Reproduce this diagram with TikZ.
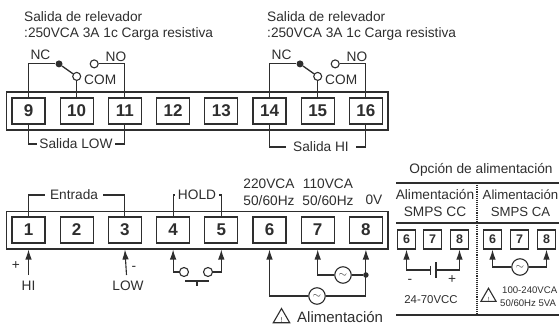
\documentclass[tikz,border=0pt]{standalone}
\usepackage{fontspec}
\setmainfont{Liberation Sans}
\usetikzlibrary{shapes.geometric,fit,calc,arrows.meta}
\definecolor{ink}{HTML}{2E2E2E}
\tikzset{
	every node/.style={text=ink},
	wire/.style={draw=ink, line width=1.1pt},
	feed/.style={wire, -{Latex[length=10pt,width=6.5pt]}},
	termbox/.style={draw=ink, line width=1.2pt, minimum width=33pt, minimum height=26pt, inner sep=0pt, font=\bfseries\fontsize{17}{17}\selectfont},
	smallbox/.style={draw=ink, line width=1.2pt, minimum width=18.5pt, minimum height=19pt, inner sep=0pt, font=\bfseries\fontsize{12.5}{12.5}\selectfont},
	framebox/.style={draw=ink, line width=1.8pt, inner sep=5pt},
	opendot/.style={circle, draw=ink, line width=1.1pt, fill=white, minimum size=8pt, inner sep=0pt},
	fulldot/.style={circle, fill=ink, minimum size=7pt, inner sep=0pt},
	source/.style={circle, draw=ink, line width=1.1pt, fill=white, minimum size=16.5pt, inner sep=0pt, font=\fontsize{11}{11}\selectfont},
	warnmark/.style={regular polygon, regular polygon sides=3, draw=ink, line width=1.1pt, minimum size=19pt, inner sep=0pt},
	txt/.style={inner sep=0pt, font=\fontsize{13.7}{16.5}\selectfont},
	gaptxt/.style={txt, inner sep=2.5pt},
}
\begin{document}
\begin{tikzpicture}[x=1pt, y=-1pt]
	\useasboundingbox (0,0) rectangle (559,326);
	\def \pitch {48.2}
	
	% terminal strips
	\foreach \s in {9,...,16}
	{
		\node[termbox] (t\s) at ({28.5+\pitch*(\s-9)},111) {\s};
	}
	\foreach \s in {1,...,8}
	{
		\node[termbox] (t\s) at ({28.5+\pitch*(\s-1)},230) {\s};
	}
	\node[framebox, fit=(t9)(t16)] (upper) {};
	\node[framebox, fit=(t1)(t8)] (lower) {};
	
	% relay outputs
	\node[txt, anchor=west, align=left] (rela) at (24,26) {Salida de relevador\\:250VCA 3A 1c Carga resistiva};
	\node[txt, anchor=west, align=left] (relb) at (267,26) {Salida de relevador\\:250VCA 3A 1c Carga resistiva};
	\foreach \a/\b/\c in {9/10/11, 14/15/16}
	{
		\node[fulldot] (nc\a) at ($(t\a.north)+(30.5,-33.5)$) {};
		\node[opendot] (com\a) at ($(t\b.north)+(0,-21)$) {};
		\node[opendot] (no\a) at ($(t\b.north)+(17.5,-33.5)$) {};
		\draw[wire] (t\a.north) |- (nc\a);
		\draw[wire, line width=1.3pt] (nc\a) -- (com\a);
		\draw[wire] (t\b.north) -- (com\a);
		\draw[wire] (t\c.north) |- (no\a);
		\node[txt] (nclabel\a) at ($(t\a.north)+(12,-43)$) {NC};
		\node[txt] (nolabel\a) at ($(t\c.north)+(-9,-41)$) {NO};
		\node[txt] (comlabel\a) at ($(t\b.north)+(23.5,-18)$) {COM};
	}
	\node[gaptxt] (outlow) at (76,144) {Salida LOW};
	\node[gaptxt, inner sep=7pt] (outhi) at (321,147) {Salida HI};
	\draw[wire] (t9.south) |- (outlow.west);
	\draw[wire] (t11.south) |- (outlow.east);
	\draw[wire] (t14.south) |- (outhi.west);
	\draw[wire] (t16.south) |- (outhi.east);
	
	% input and hold
	\node[gaptxt, inner sep=5pt] (entrada) at (74,195) {Entrada};
	\node[gaptxt] (hold) at (197,195) {HOLD};
	\draw[wire] (t1.north) |- (entrada.west);
	\draw[wire] (t3.north) |- (entrada.east);
	\draw[wire] (t4.north) |- (hold.west);
	\draw[wire] (t5.north) |- (hold.east);
	\node[txt] (hi) at (28.5,286) {HI};
	\node[txt] (low) at (128,286) {LOW};
	\node[txt] (plus) at (16,266) {+};
	\node[txt] (minus) at (134,268) {-};
	\coordinate (hiend) at (28.5,275);
	\coordinate (lowend) at (126.5,275);
	\draw[feed] (hiend) -- (t1 |- lower.south);
	\draw[feed] (lowend) -- (t3 |- lower.south);
	\node[opendot, minimum size=9pt] (holda) at (184,272) {};
	\node[opendot, minimum size=9pt] (holdb) at (208,272) {};
	\draw[feed] (holda) -| (t4 |- lower.south);
	\draw[feed] (holdb) -| (t5 |- lower.south);
	\coordinate (btnl) at (185,281);
	\coordinate (btnr) at (209,281);
	\coordinate (btnm) at (197,281);
	\coordinate (btns) at (197,286);
	\draw[wire, line width=1.4pt] (btnl) -- (btnr);
	\draw[wire] (btnm) -- (btns);
	
	% mains supply
	\node[txt, align=center] (vhigh) at (269,192.5) {220VCA\\50/60Hz};
	\node[txt, align=center] (vlow) at (328,192.5) {110VCA\\50/60Hz};
	\node[txt] (vzero) at (374,200) {0V};
	\node[source] (acb) at (343,275) {$\sim$};
	\node[source] (aca) at (317,296) {$\sim$};
	\node[fulldot, minimum size=5.5pt] (join) at (t8 |- acb) {};
	\draw[feed] (aca) -| (t6 |- lower.south);
	\draw[feed] (aca) -| (t8 |- lower.south);
	\draw[feed] (acb) -| (t7 |- lower.south);
	\draw[wire] (acb) -- (join);
	\node[warnmark] (warna) at (281.5,318) {};
	\node[inner sep=0pt, font=\fontsize{7}{7}\selectfont] (warnatext) at (281.5,320) {!};
	\node[txt, anchor=west, font=\fontsize{15}{15}\selectfont] (supply) at (297,317) {Alimentación};
	
	% supply options
	\coordinate (ruletl) at (396,183);
	\coordinate (ruletr) at (559,183);
	\coordinate (rulem) at (396,223);
	\coordinate (rulemr) at (559,223);
	\coordinate (rulebl) at (396,315);
	\coordinate (rulebr) at (559,315);
	\coordinate (dottop) at (477,183);
	\coordinate (dotbot) at (477,315);
	\draw[wire] (ruletl) -- (ruletr);
	\draw[wire] (rulem) -- (rulemr);
	\draw[wire, line width=1.4pt] (rulebl) -- (rulebr);
	\draw[wire, densely dotted, line width=1.2pt] (dottop) -- (dotbot);
	\node[txt] (options) at (481,170) {Opción de alimentación};
	\node[txt, align=center] (smpscc) at (435,203) {Alimentación\\SMPS CC};
	\node[txt, anchor=west, align=center, font=\fontsize{13.2}{16.5}\selectfont] (smpsca) at (482.5,203) {Alimentación\\SMPS CA};
	\foreach \s/\x in {6/406.5,7/432.5,8/459.5}
	{
		\node[smallbox] (c\s) at (\x,239.5) {\s};
	}
	\foreach \s/\x in {6/492.5,7/519.5,8/546.5}
	{
		\node[smallbox] (a\s) at (\x,239.5) {\s};
	}
	% battery
	\coordinate (bata) at (430.5,270);
	\coordinate (batb) at (436,270);
	\coordinate (batat) at (430.5,265.5);
	\coordinate (batab) at (430.5,274.5);
	\coordinate (batbt) at (436,262);
	\coordinate (batbb) at (436,278);
	\draw[feed] (bata) -| (c6.south);
	\draw[feed] (batb) -| (c8.south);
	\draw[wire, line width=1.6pt] (batat) -- (batab);
	\draw[wire] (batbt) -- (batbb);
	\node[txt] (minusc) at (410,281) {-};
	\node[txt] (plusc) at (452,280) {+};
	\node[txt, font=\fontsize{11.4}{11.4}\selectfont] (dcrange) at (431,300) {24-70VCC};
	\node[source] (acc) at (520,267) {$\sim$};
	\draw[feed] (acc) -| (a6.south);
	\draw[feed] (acc) -| (a8.south);
	\node[warnmark, minimum size=17.5pt] (warnb) at (488.5,297) {};
	\node[inner sep=0pt, font=\fontsize{6}{6}\selectfont] (warnbtext) at (488.5,299) {!};
	\node[inner sep=0pt, anchor=west, align=left, font=\fontsize{9.6}{13}\selectfont] (acrange) at (500,296.5) {\hspace{2pt}100-240VCA\\50/60Hz 5VA};
\end{tikzpicture}
\end{document}
